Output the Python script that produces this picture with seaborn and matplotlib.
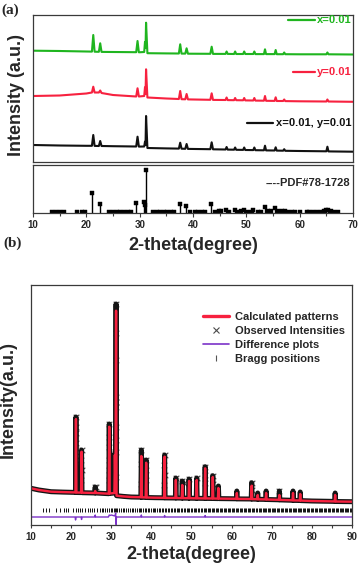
import numpy as np
import pandas as pd
import seaborn as sns
import matplotlib.pyplot as plt
from matplotlib.lines import Line2D

# ---- panel (a): XRD patterns (offset traces, a.u.) ----
two_theta_a = [10, 15, 20, 21.05, 21.3, 21.55, 22.35, 22.6, 22.85, 25, 29.35, 29.6, 29.85,
               30.85, 31.0, 31.1, 31.2, 31.45, 35, 37.35, 37.6, 37.85, 38.55, 38.8, 39.05,
               43.25, 43.5, 43.75, 46.1, 46.3, 46.5, 47.7, 47.9, 48.1, 49.4, 49.6, 49.8,
               51.3, 51.5, 51.7, 53.3, 53.5, 53.7, 55.3, 55.5, 55.7, 56.9, 57.1, 57.3,
               60, 65.0, 65.2, 65.4, 70]
green_x001 = [111.3, 111, 110.5, 110.4, 127, 110.3, 110.2, 118.7, 110.1, 110, 109.8, 121, 109.7,
              110, 120, 114, 139.3, 108.8, 108.6, 108.5, 117.7, 108.4, 108.4, 113.7, 108.3,
              108.2, 115.3, 108.1, 108.1, 110.5, 108.1, 108, 110.5, 108, 108, 110.5, 108,
              108, 110.5, 107.9, 107.9, 112.7, 107.9, 107.9, 112, 107.8, 107.8, 109.5, 107.8,
              107.7, 107.7, 109.5, 107.7, 107.5]
red_y001 = [66, 66.5, 68.5, 69.5, 75.3, 69.5, 69.5, 71.5, 69, 67, 65.5, 73.7, 65.5,
            66, 74.7, 68, 92.7, 64.5, 63.5, 63, 71, 62.8, 62.7, 68, 62.6,
            62.2, 68.7, 62.1, 62, 64.5, 61.9, 61.8, 64, 61.8, 61.7, 64, 61.6,
            61.5, 64, 61.4, 61.3, 66, 61.2, 61.1, 64.7, 61, 61, 62.5, 60.9,
            60.7, 60.5, 62.5, 60.5, 60.2]
black_xy001 = [17, 16.5, 16.2, 16.2, 27, 16.1, 16, 21, 16, 15.8, 15.5, 25.3, 15.4,
               15.5, 20.3, 17, 46, 14, 13.6, 13.4, 19.3, 13.3, 13.2, 18, 13.1,
               12.8, 19.7, 12.7, 12.5, 15, 12.4, 12.3, 14.5, 12.2, 12.1, 14.5, 12,
               11.9, 14.5, 11.8, 11.7, 16.3, 11.6, 11.5, 14.7, 11.4, 11.3, 12.8, 11.2,
               11, 10.7, 15.3, 10.6, 10.3]

# standard card PDF#78-1728 (relative intensity)
pdf_pos = [13.6, 14.3, 15.0, 15.8, 18.2, 19.2, 19.8, 21.1, 22.5, 24.3, 25.0, 25.7, 26.3, 27.0,
           27.8, 28.4, 29.4, 30.8, 31.0, 31.1, 32.5, 33.2, 33.8, 34.5, 35.2, 35.8, 36.5, 37.5,
           38.6, 39.5, 40.3, 41.0, 41.7, 42.3, 43.3, 44.2, 44.8, 45.3, 46.1, 46.8, 47.8, 48.5,
           49.0, 49.5, 50.2, 50.8, 51.3, 52.1, 52.7, 53.5, 54.1, 54.7, 55.3, 56.0, 56.7, 57.2,
           57.8, 58.5, 59.2, 60.0, 61.3, 61.8, 62.5, 63.3, 64.0, 64.5, 64.9, 65.3, 65.8, 66.5, 67.1]
pdf_int = [3, 2, 2, 2, 2, 3, 2, 46, 22, 2, 2, 3, 3, 3,
           2, 2, 24, 25, 18, 100, 2, 2, 2, 2, 2, 3, 2, 22,
           16, 3, 3, 3, 3, 3, 22, 3, 4, 4, 8, 3, 8, 3,
           4, 8, 3, 3, 7, 3, 3, 13, 4, 4, 12, 5, 5, 4,
           3, 2, 2, 2, 3, 2, 2, 2, 3, 5, 8, 6, 4, 3, 2]

# ---- panel (b): Rietveld refinement ----
two_theta_b = [10, 12, 15, 18, 20, 21.08, 21.2, 21.32, 22.48, 22.6, 22.72, 25.88, 26.0, 26.12,
               29.38, 29.5, 29.62, 30.78, 30.9, 31.05, 31.2, 31.32, 33, 35, 37.38, 37.5, 37.62,
               38.58, 38.7, 38.82, 41, 43.18, 43.3, 43.42, 45.98, 46.1, 46.22, 47.58, 47.7, 47.82,
               49.28, 49.4, 49.52, 51.18, 51.3, 51.42, 53.28, 53.4, 53.52, 55.18, 55.3, 55.42,
               56.58, 56.7, 56.82, 59, 61.18, 61.3, 61.42, 64.88, 65.0, 65.12, 66.38, 66.5, 66.62,
               68.48, 68.6, 68.72, 71.78, 71.9, 72.02, 75.18, 75.3, 75.42, 76.98, 77.1, 77.22,
               80, 85.68, 85.8, 85.92, 90]
calc_int = [33.7, 32, 30.3, 29.9, 29.7, 29.6, 103, 29.5, 29.4, 70.3, 29.3, 29, 31, 29,
            28.3, 95.3, 28.5, 29, 67, 35, 211.3, 26.3, 25.6, 25, 24.8, 66, 24.7,
            24.6, 59.3, 24.5, 24.3, 24.2, 65.3, 24.1, 24, 42, 24, 23.9, 37, 23.9,
            23.8, 41, 23.8, 23.7, 42, 23.7, 23.6, 53.7, 23.6, 23.5, 45, 23.5,
            23.4, 34, 23.4, 23.3, 23.2, 29, 23.1, 23, 36.3, 22.9, 22.8, 27, 22.7,
            22.6, 29, 22.5, 22.2, 27, 22.1, 21.7, 29, 21.6, 21.5, 28, 21.4,
            21, 20.6, 27, 20.5, 20.3]
obs_int = [33.7, 32, 30.3, 29.9, 29.7, 29.6, 105, 29.5, 29.4, 72, 29.3, 29, 35, 29,
           28.3, 98, 28.5, 29, 69, 35, 218, 26.3, 25.6, 25, 24.8, 72, 24.7,
           24.6, 62, 24.5, 24.3, 24.2, 67, 24.1, 24, 44, 24, 23.9, 41, 23.9,
           23.8, 43, 23.8, 23.7, 44, 23.7, 23.6, 55.3, 23.6, 23.5, 46.3, 23.5,
           23.4, 36, 23.4, 23.3, 23.2, 31, 23.1, 23, 39.3, 22.9, 22.8, 29, 22.7,
           22.6, 31, 22.5, 22.2, 31, 22.1, 21.7, 31, 21.6, 21.5, 30, 21.4,
           21, 20.6, 29, 20.5, 20.3]
# individual observed points drawn as crosses
obs_pt_x = [31.2, 31.15, 31.2, 31.15, 31.25, 31.2, 31.25, 31.1, 31.25, 31.05, 31.3,
            21.2, 21.15, 21.25, 21.15, 21.25, 21.15, 21.25, 21.15,
            22.6, 22.55, 22.65, 22.55, 29.5, 29.45, 29.55, 29.45, 29.55, 29.4,
            30.85, 30.95, 30.85, 26.0, 26.3, 37.5, 37.45, 37.55, 37.45,
            38.7, 38.65, 38.75, 43.3, 43.25, 43.35, 43.25, 46.1, 47.7, 48.1,
            49.4, 51.3, 53.4, 53.35, 53.45, 55.3, 55.25, 65.0, 65.05, 71.9]
obs_pt_y = [218, 189, 162, 125, 120, 115, 95, 82, 70, 55, 45,
            105, 95, 89, 79, 70, 62, 52, 42,
            72, 62, 52, 42, 98, 85, 75, 62, 52, 42,
            69, 58, 48, 35, 35, 72, 58, 48, 38,
            62, 52, 42, 67, 57, 47, 37, 44, 41, 39,
            43, 44, 55.3, 47, 39, 46.3, 38, 39.3, 32, 31]
diff_x = [10, 21.0, 21.1, 21.25, 22.5, 22.6, 22.7, 25.9, 26.0, 26.1, 29.3, 29.5, 29.7, 30.0,
          30.9, 31.1, 31.2, 31.3, 37.4, 37.5, 37.6, 43.2, 43.3, 43.4, 53.3, 53.4, 53.5, 90]
diff_y = [5, 5, 2, 5, 5, 2.5, 5, 5, 7, 5, 5, 7, 6.5, 7,
          6, 9, -2.5, 5, 5, 7, 5, 5, 6.5, 5, 5, 6.5, 5, 5]
bragg_pos = [13.1, 13.7, 14.4, 16.2, 17.2, 18.1, 18.7, 19.3, 20.5, 21.2, 21.6, 22.2, 22.6, 23.4,
             24.1, 24.6, 25.3, 25.8, 26.4, 27.1, 27.6, 28.0, 28.5, 29.0, 29.5, 29.9, 30.3,
             30.6, 30.9, 31.2, 31.5, 31.9, 32.4, 32.9, 33.3, 33.8, 34.2, 34.7, 35.1, 35.5,
             35.9, 36.4, 36.8, 37.2, 37.5, 37.9, 38.3, 38.7, 39.1, 39.5, 39.9, 40.3, 40.7,
             41.0, 41.4, 41.8, 42.2, 42.6, 43.0, 43.3, 43.7, 44.1, 44.5, 44.8, 45.2, 45.6,
             46.0, 46.3, 46.7, 47.0, 47.4, 47.7, 48.1, 48.4, 48.8, 49.1, 49.5, 49.8, 50.2,
             50.5, 50.9, 51.2, 51.6, 51.9, 52.3, 52.6, 53.0, 53.3, 53.7, 54.0, 54.3, 54.7,
             55.0, 55.4, 55.7, 56.0, 56.4, 56.7, 57.1, 57.4, 57.7, 58.1, 58.4, 58.7, 59.1,
             59.4, 59.7, 60.1, 60.4, 60.7, 61.1, 61.4, 61.7, 62.0, 62.4, 62.7, 63.0, 63.4,
             63.7, 64.0, 64.4, 64.7, 65.0, 65.3, 65.7, 66.0, 66.3, 66.7, 67.0, 67.3, 67.7,
             68.0, 68.3, 68.6, 69.0, 69.3, 69.6, 70.0, 70.3, 70.6, 70.9, 71.3, 71.6, 71.9,
             72.2, 72.6, 72.9, 73.2, 73.5, 73.9, 74.2, 74.5, 74.8, 75.2, 75.5, 75.8, 76.1,
             76.5, 76.8, 77.1, 77.4, 77.8, 78.1, 78.4, 78.7, 79.1, 79.4, 79.7, 80.0, 80.4,
             80.7, 81.0, 81.3, 81.7, 82.0, 82.3, 82.6, 83.0, 83.3, 83.6, 83.9, 84.3, 84.6,
             84.9, 85.2, 85.6, 85.9, 86.2, 86.5, 86.9, 87.2, 87.5, 87.8, 88.2, 88.5, 88.8,
             89.1, 89.5, 89.8]

GREEN = "#1fb51f"
RED = "#f7213f"
PURPLE = "#7b32c8"

sns.set_style("ticks")
plt.rcParams["font.family"] = ["Liberation Sans", "DejaVu Sans"]
plt.rcParams["font.weight"] = "bold"

fig = plt.figure(figsize=(3.61, 5.66), dpi=100)
W, H = 361.0, 566.0


def add_ax(l, t, r, b):
    return fig.add_axes([l / W, 1 - b / H, (r - l) / W, (b - t) / H])


ax_top = add_ax(33, 15, 353, 162)
ax_pdf = add_ax(33, 165, 353, 213)
ax_b = add_ax(31, 285, 352, 525)

for ax in (ax_top, ax_pdf, ax_b):
    for sp in ax.spines.values():
        sp.set_visible(True)
        sp.set_color("#3a3a3a")
        sp.set_linewidth(0.9)
    ax.set_yticks([])

# (a) traces
sns.lineplot(x=two_theta_a, y=green_x001, ax=ax_top, color=GREEN, lw=1.5)
sns.lineplot(x=two_theta_a, y=red_y001, ax=ax_top, color=RED, lw=1.5)
sns.lineplot(x=two_theta_a, y=black_xy001, ax=ax_top, color="#111111", lw=1.5)
ax_top.set_xlim(10, 70)
ax_top.set_ylim(0, 147)
ax_top.set_xticks([])
ax_top.set_xlabel("")
ax_top.set_ylabel("")

entries = [(0.797, 0.881, 0.966, GREEN, "x=0.01"),
           (0.8125, 0.881, 0.612, RED, "y=0.01"),
           (0.669, 0.75, 0.265, "#111111", "x=0.01, y=0.01")]
for x0, x1, yy, c, lab in entries:
    ax_top.plot([x0, x1], [yy, yy], color=c, lw=1.6, transform=ax_top.transAxes)
    ax_top.text(0.994, yy, lab, color=c, fontsize=8, fontweight="bold",
                ha="right", va="center", transform=ax_top.transAxes)

# standard card sticks
ax_pdf.vlines(pdf_pos, 0, pdf_int, color="black", lw=1.0)
sns.scatterplot(x=pdf_pos, y=pdf_int, ax=ax_pdf, marker="s", s=9, color="black",
                edgecolor="black", linewidth=0.3)
ax_pdf.set_xlim(10, 70)
ax_pdf.set_ylim(0, 112)
ax_pdf.text(0.99, 0.625, "----PDF#78-1728", fontsize=8, fontweight="bold",
            ha="right", va="center", transform=ax_pdf.transAxes)
ax_pdf.set_xticks([10, 20, 30, 40, 50, 60, 70])
ax_pdf.set_xticks([15, 25, 35, 45, 55, 65], minor=True)
ax_pdf.tick_params(axis="x", which="both", direction="out", length=3, width=0.8,
                   labelsize=7, pad=2, color="#3a3a3a")
ax_pdf.tick_params(axis="x", which="minor", length=2)
ax_pdf.set_xlabel("2-theta(degree)", fontsize=13, fontweight="bold", labelpad=5)
ax_pdf.set_ylabel("")

# (b) refinement
sns.lineplot(x=two_theta_b, y=obs_int, ax=ax_b, color="#151515", lw=3.6,
             solid_joinstyle="round", solid_capstyle="round")
sns.scatterplot(x=obs_pt_x, y=obs_pt_y, ax=ax_b, marker="x", s=16, color="#4a4a4a",
                linewidth=0.8)
sns.lineplot(x=two_theta_b, y=calc_int, ax=ax_b, color=RED, lw=1.7,
             solid_joinstyle="round")
ax_b.vlines(bragg_pos, 9.7, 14.3, color="#111111", lw=0.7)
sns.lineplot(x=diff_x, y=diff_y, ax=ax_b, color=PURPLE, lw=1.0)
ax_b.set_xlim(10, 90)
ax_b.set_ylim(-3, 237)
ax_b.set_xticks(range(10, 91, 10))
ax_b.set_xticks(range(15, 90, 10), minor=True)
ax_b.tick_params(axis="x", which="both", direction="out", length=2.5, width=0.8,
                 labelsize=7, pad=2.5, color="#3a3a3a")
ax_b.tick_params(axis="x", which="minor", length=2)
ax_b.set_xlabel("2-theta(degree)", fontsize=13, fontweight="bold", labelpad=3)
ax_b.set_ylabel("")

handles = [Line2D([], [], color=RED, lw=2.4),
           Line2D([], [], color="#4a4a4a", marker="x", ls="none", markersize=5, mew=0.8),
           Line2D([], [], color=PURPLE, lw=1.2),
           Line2D([], [], color="#555555", marker="|", ls="none", markersize=4, mew=0.8)]
labels = ["Calculated patterns", "Observed Intensities", "Difference plots", "Bragg positions"]
ax_b.legend(handles, labels, loc="upper right", bbox_to_anchor=(1.0, 0.915),
            frameon=False, handlelength=2.3, handletextpad=0.6,
            labelspacing=0.35, borderaxespad=0.2, prop={"weight": "bold", "size": 8})

# axis titles and panel labels
fig.text(17 / W, 1 - 95 / H, "Intensity (a.u.)", rotation=90, fontsize=13,
         fontweight="bold", ha="center", va="center")
fig.text(8 / W, 1 - 400 / H, "Intensity(a.u.)", rotation=90, fontsize=13,
         fontweight="bold", ha="center", va="center")
fig.text(1 / W, 1 - 10 / H, "(a)", fontsize=11, fontweight="bold", ha="left", va="center",
         family=["Liberation Serif", "DejaVu Serif"])
fig.text(3 / W, 1 - 243 / H, "(b)", fontsize=11, fontweight="bold", ha="left", va="center",
         family=["Liberation Serif", "DejaVu Serif"])

fig.savefig("out.png", dpi=100, facecolor="white")
